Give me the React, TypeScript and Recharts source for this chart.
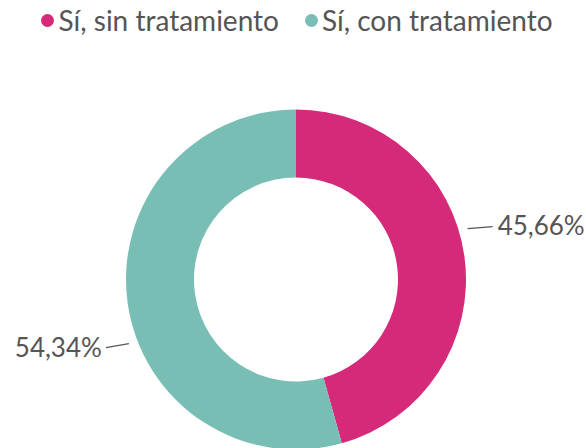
import React from 'react';
import { PieChart, Pie, Cell, Legend } from 'recharts';

const categories = ['Sí, sin tratamiento', 'Sí, con tratamiento'];
const values = [45.66, 54.34];
const labels = ['45,66%', '54,34%'];
const colors = ['#D42A79', '#79BEB4'];

const data = categories.map((name, i) => ({ name, value: values[i] }));

const FONT = 'Lato, "Open Sans", sans-serif';
const TEXT = '#555555';

// label anchor angles (degrees, math convention)
const labelAngles = [16.5, 201];

const renderLabel = (props: any) => {
  const { cx, cy, outerRadius, index } = props;
  const a = (labelAngles[index] * Math.PI) / 180;
  const r = outerRadius + 9;
  const sx = cx + r * Math.cos(a);
  const sy = cy - r * Math.sin(a);
  const right = index === 0;
  const ex = right ? sx + 25 : sx - 23;
  const ey = right ? sy - 2 : sy + 4;
  const tx = right ? ex + 5 : ex - 4;
  const ty = right ? ey - 2 : ey - 1;
  return (
    <g>
      <path d={`M${sx},${sy} L${ex},${ey}`} stroke="#555" strokeWidth={1.2} fill="none" />
      <text
        x={tx}
        y={ty}
        textAnchor={right ? 'start' : 'end'}
        dominantBaseline="central"
        fill={TEXT}
        fontSize={26}
        fontFamily={FONT}
      >
        {labels[index]}
      </text>
    </g>
  );
};

const renderLegend = () => (
  <div
    style={{
      display: 'flex',
      justifyContent: 'center',
      alignItems: 'center',
      fontFamily: FONT,
      fontSize: 28,
      lineHeight: '34px',
      color: TEXT,
      whiteSpace: 'nowrap',
    }}
  >
    {categories.map((c, i) => (
      <div key={c} style={{ display: 'flex', alignItems: 'center', marginRight: i === 0 ? 26 : 0 }}>
        <span
          style={{
            display: 'inline-block',
            width: 13,
            height: 13,
            borderRadius: '50%',
            background: colors[i],
            marginRight: 4,
          }}
        />
        <span>{c}</span>
      </div>
    ))}
  </div>
);

export default function App() {
  return (
    <div style={{ position: 'absolute', left: 0, top: 0, width: 586, height: 448, background: '#fff', overflow: 'hidden' }}>
      <PieChart width={586} height={448} margin={{ top: 0, right: 0, bottom: 0, left: 0 }}>
        <Legend
          verticalAlign="middle"
          layout="horizontal"
          content={renderLegend}
          wrapperStyle={{ top: 3, left: 4, width: 586 }}
        />
        <Pie
          data={data}
          dataKey="value"
          nameKey="name"
          cx={296}
          cy={279.5}
          innerRadius={102}
          outerRadius={170}
          startAngle={90}
          endAngle={-270}
          stroke="none"
          label={renderLabel}
          labelLine={false}
          isAnimationActive={false}
        >
          {data.map((d, i) => (
            <Cell key={d.name} fill={colors[i]} />
          ))}
        </Pie>
      </PieChart>
    </div>
  );
}
